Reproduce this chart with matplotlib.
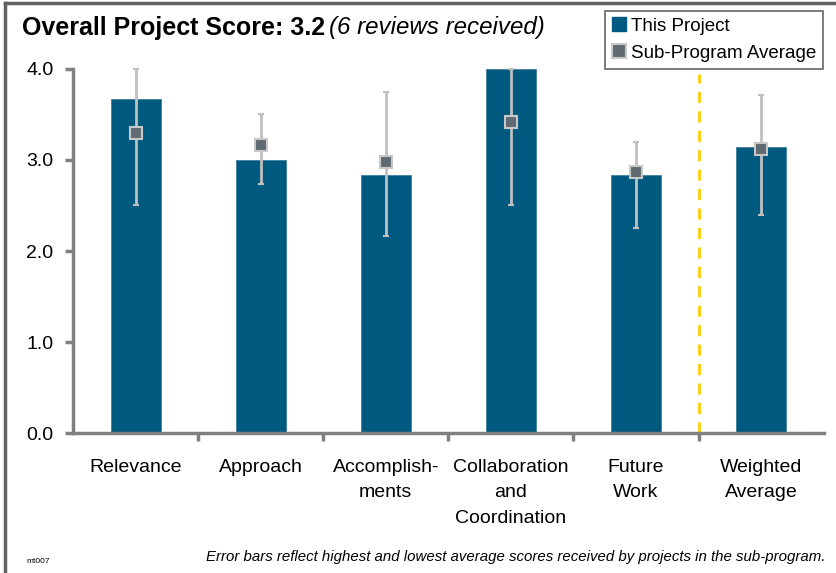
import matplotlib.pyplot as plt
from matplotlib.lines import Line2D

# データ
categories = ['Relevance', 'Approach', 'Accomplish-\nments', 'Collaboration\nand\nCoordination', 'Future\nWork', 'Weighted\nAverage']
project_scores = [3.67, 3.00, 2.83, 4.00, 2.83, 3.14]
subprogram_avg = [3.30, 3.16, 2.98, 3.42, 2.87, 3.12]
subprogram_high = [4.00, 3.50, 3.75, 4.00, 3.20, 3.71]
subprogram_low = [2.50, 2.74, 2.16, 2.50, 2.25, 2.40]
yticks = [0.0, 1.0, 2.0, 3.0, 4.0]

plt.rcParams['font.family'] = ['Liberation Sans Narrow', 'Liberation Sans', 'DejaVu Sans']

fig = plt.figure(figsize=(8.36, 5.73), dpi=100)
ax = fig.add_axes([0.0873, 0.2443, 0.898, 0.6353])

x = range(len(categories))
ax.bar(x, project_scores, width=0.4, color='#005a80', edgecolor='#3d7fa0', linewidth=0.6, zorder=2)

lower = [a - l for a, l in zip(subprogram_avg, subprogram_low)]
upper = [h - a for a, h in zip(subprogram_avg, subprogram_high)]
ax.errorbar(x, subprogram_avg, yerr=[lower, upper], fmt='s', color='#5f6a72',
            markersize=9, markeredgecolor='#c8c8c8', markeredgewidth=1.5,
            ecolor='#c0c0c0', elinewidth=2, capsize=2.5, capthick=2,
            zorder=3, clip_on=False)

# 区切り線
ax.plot([4.5, 4.5], [0, 3.95], color='#ffcc00', linestyle='--', linewidth=2, dashes=(4, 3), zorder=1)

ax.set_xlim(-0.5, 5.5)
ax.set_ylim(0, 4.0)
ax.set_yticks(yticks)
ax.set_yticklabels(['%.1f' % t for t in yticks], fontsize=14)
ax.set_xticks([i + 0.5 for i in range(5)])
ax.set_xticklabels([])
ax.set_xticks(list(x), minor=True)
ax.set_xticklabels(categories, minor=True, fontsize=14, linespacing=1.62, va='top')
ax.tick_params(axis='x', which='minor', length=0, pad=19)
ax.tick_params(axis='x', which='major', length=6, width=2.5, color='#808080')
ax.tick_params(axis='y', length=6, width=2.5, color='#808080', pad=8)

for side in ['top', 'right']:
    ax.spines[side].set_visible(False)
for side in ['left', 'bottom']:
    ax.spines[side].set_color('#808080')
    ax.spines[side].set_linewidth(2.5)

# タイトル
fig.text(0.026, 0.952, 'Overall Project Score: 3.2', fontsize=18, fontweight='bold', va='center')
fig.text(0.394, 0.952, '(6 reviews received)', fontsize=17.4, style='italic', va='center')

# 凡例
handles = [
    Line2D([], [], marker='s', linestyle='none', markersize=10, color='#005a80', markeredgecolor='#005a80'),
    Line2D([], [], marker='s', linestyle='none', markersize=10, color='#5f6a72', markeredgecolor='#c8c8c8', markeredgewidth=1.5),
]
leg = fig.legend(handles, ['This Project', 'Sub-Program Average'], loc='upper right',
                 bbox_to_anchor=(0.984, 0.981), fontsize=13.5,
                 frameon=True, fancybox=False, edgecolor='#404040', handlelength=0.7,
                 handletextpad=0.3, borderpad=0.35, labelspacing=0.55, borderaxespad=0)
leg.get_frame().set_linewidth(1.2)

fig.text(0.987, 0.028, 'Error bars reflect highest and lowest average scores received by projects in the sub-program.',
         fontsize=10.8, style='italic', ha='right', va='center')
fig.text(0.032, 0.02, 'mt007', fontsize=6, va='center')

# 外枠
fig.add_artist(Line2D([0.006, 1.0], [0.994, 0.994], color='#606060', linewidth=2.5, transform=fig.transFigure))
fig.add_artist(Line2D([0.006, 0.006], [0.0, 0.994], color='#606060', linewidth=2.5, transform=fig.transFigure))

fig.savefig('out.png', dpi=100)
